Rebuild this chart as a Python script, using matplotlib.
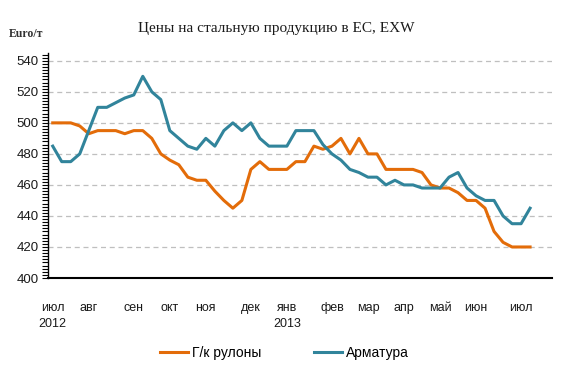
import matplotlib.pyplot as plt
import numpy as np
from matplotlib.ticker import MultipleLocator

# недельные цены, евро/т (июль 2012 - июль 2013)
hr_coils = [500, 500, 500, 498, 493, 495, 495, 495, 493, 495,
            495, 490, 480, 476, 473, 465, 463, 463, 456, 450,
            445, 450, 470, 475, 470, 470, 470, 475, 475, 485,
            483, 485, 490, 480, 490, 480, 480, 470, 470, 470,
            470, 468, 460, 458, 458, 455, 450, 450, 445, 430,
            423, 420, 420, 420]
rebar = [485, 475, 475, 480, 495, 510, 510, 513, 516, 518,
         530, 520, 515, 495, 490, 485, 483, 490, 485, 495,
         500, 495, 500, 490, 485, 485, 485, 495, 495, 495,
         486, 480, 476, 470, 468, 465, 465, 460, 463, 460,
         460, 458, 458, 458, 465, 468, 458, 453, 450, 450,
         440, 435, 435, 445]

month_pos = [0, 4, 9, 13, 17, 22, 26, 31, 35, 39, 43, 47, 52]
month_labels = ["июл\n2012", "авг", "сен", "окт", "ноя", "дек", "янв\n2013",
                "фев", "мар", "апр", "май", "июн", "июл"]

x = np.arange(len(hr_coils))

fig = plt.figure(figsize=(5.8, 3.8), dpi=100)
ax = fig.add_axes([0.0836, 0.2684, 0.8676, 0.592])

ax.plot(x, hr_coils, color="#E36C09", lw=2.2, label="Г/к рулоны")
ax.plot(x, rebar, color="#31849B", lw=2.2, label="Арматура")

ax.set_xlim(-0.47, 55.4)
ax.set_ylim(400, 545)
ax.yaxis.set_major_locator(MultipleLocator(20))
ax.yaxis.set_minor_locator(MultipleLocator(2))
ax.set_yticks(range(400, 541, 20))
ax.grid(axis="y", color="#BFBFBF", linestyle=(0, (4, 3)), linewidth=0.9)
ax.set_axisbelow(True)

ax.set_xticks(month_pos)
ax.set_xticklabels(month_labels, family="Liberation Sans", fontsize=9, color="#1a1a1a",
                   linespacing=1.5)
ax.tick_params(axis="x", length=0, pad=17)
ax.tick_params(axis="y", which="both", direction="out", length=4, width=0.8,
               labelsize=9.5, pad=3)
for lab in ax.get_yticklabels():
    lab.set_family("Liberation Sans")
    lab.set_color("#1a1a1a")

for s in ("top", "right"):
    ax.spines[s].set_visible(False)
ax.spines["left"].set_linewidth(1.0)
ax.spines["bottom"].set_linewidth(1.5)

fig.text(0.476, 0.925, "Цены на стальную продукцию в ЕС, EXW", ha="center", va="center",
         family="Liberation Serif", fontsize=11, color="#1a1a1a")
fig.text(0.016, 0.91, "Euro/т", ha="left", va="center", family="Liberation Serif",
         fontsize=8.5, fontweight="bold", color="#333333")

fig.legend(loc="center", bbox_to_anchor=(0.49, 0.072), ncol=2, frameon=False,
           prop={"family": "Liberation Sans", "size": 10}, handlelength=2.0,
           handletextpad=0.3, columnspacing=3.8)

fig.savefig("out.png", dpi=100)
